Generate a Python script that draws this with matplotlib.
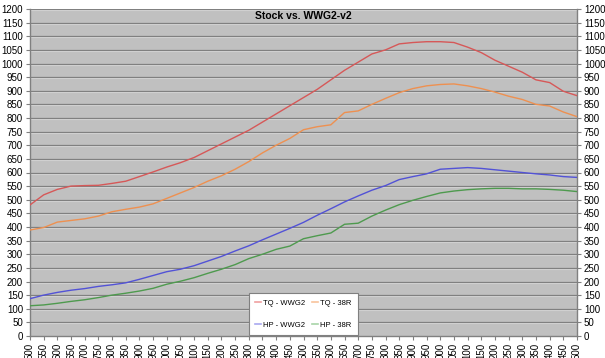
import matplotlib
matplotlib.use("Agg")
import matplotlib.pyplot as plt
import matplotlib.transforms as mtransforms
from matplotlib.lines import Line2D

# ---------- Data ----------
rpm = list(range(1500, 3550, 50))
# the reference only shows the last three digits of each rpm label
rpm_labels = [str(r)[-3:] for r in rpm]

tq_wwg2 = [481, 518, 538, 550, 552, 553, 560, 568, 585, 602,
           620, 636, 655, 680, 705, 730, 755, 785, 815, 845,
           875, 905, 940, 975, 1005, 1035, 1050, 1072, 1077, 1080,
           1080, 1077, 1060, 1040, 1012, 990, 968, 940, 930, 898, 882]

tq_38r = [389, 398, 418, 424, 430, 440, 456, 465, 473, 485,
          505, 525, 545, 568, 588, 612, 640, 672, 700, 725,
          757, 768, 775, 820, 826, 850, 872, 893, 908, 918,
          923, 925, 918, 908, 895, 880, 868, 850, 844, 822, 805]

hp_wwg2 = [137, 150, 160, 168, 174, 182, 188, 195, 208, 222,
           236, 245, 258, 275, 292, 312, 331, 353, 374, 395,
           417, 443, 467, 492, 514, 535, 552, 574, 585, 595,
           612, 615, 618, 615, 610, 605, 600, 595, 591, 585, 582]

hp_38r = [111, 114, 120, 127, 133, 141, 150, 157, 165, 175,
          190, 201, 214, 230, 245, 262, 284, 300, 318, 330,
          357, 368, 378, 410, 414, 440, 462, 482, 498, 512,
          525, 532, 537, 540, 542, 542, 540, 540, 538, 535, 530]

series = [
    ("TQ - WWG2", tq_wwg2, "#d65858", "#f0a0a0"),
    ("TQ - 38R", tq_38r, "#ee9050", "#f8c49c"),
    ("HP - WWG2", hp_wwg2, "#5252d6", "#a8a8f0"),
    ("HP - 38R", hp_38r, "#4e9a4e", "#a8d4a8"),
]

plt.rcParams["font.family"] = ["Liberation Sans", "DejaVu Sans"]

fig = plt.figure(figsize=(6.05, 3.58), dpi=100)
fig.patch.set_facecolor("white")
ax = fig.add_axes([30 / 605, 22 / 358, 547 / 605, 327 / 358])
ax.set_facecolor("#c0c0c0")

# 3D-ish gridlines: dark line with a light line just below it
grid_tr = mtransforms.blended_transform_factory(ax.transAxes, ax.transData)
light_tr = grid_tr + mtransforms.ScaledTranslation(0, -1 / 100, fig.dpi_scale_trans)
for v in range(50, 1250, 50):
    ax.plot([0, 1], [v, v], color="#dcdcdc", lw=0.8, transform=light_tr, zorder=1)
    ax.plot([0, 1], [v, v], color="#808080", lw=0.9, transform=grid_tr, zorder=1.1)

for label, vals, col, _ in series:
    ax.plot(rpm, vals, color=col, lw=1.0, zorder=3)

ax.set_xlim(rpm[0], rpm[-1])
ax.set_ylim(0, 1200)
ax.set_yticks(range(0, 1250, 50))
ax.set_xticks(rpm)
ax.set_xticklabels(rpm_labels, rotation=90, fontsize=7, va="top")
ax.tick_params(axis="y", labelsize=7, length=3, color="#808080", pad=2,
               left=True, right=True, labelleft=True, labelright=True)
ax.tick_params(axis="x", length=3, color="#808080", pad=2)

for side in ["left", "right", "bottom"]:
    ax.spines[side].set_color("#808080")
    ax.spines[side].set_linewidth(1.0)
ax.spines["top"].set_visible(False)

ax.text(0.5, 0.979, "Stock vs. WWG2-v2", transform=ax.transAxes, ha="center",
        va="center", fontsize=7.5, fontweight="bold", zorder=5)

# legend fills column-wise: order so TQ sits on the top row
order = [0, 2, 1, 3]
handles = [Line2D([0], [0], color=series[i][3], lw=1.2, label=series[i][0]) for i in order]
leg = ax.legend(handles=handles, ncol=2, loc="lower center",
                bbox_to_anchor=(0.5, 0.0), borderaxespad=0.15, fontsize=5.5,
                handlelength=0.8, handletextpad=0.25, columnspacing=0.9,
                labelspacing=1.9, borderpad=0.8, fancybox=False, framealpha=1.0)
leg.get_frame().set_edgecolor("#808080")
leg.get_frame().set_linewidth(0.8)
leg.set_zorder(6)

fig.savefig("out.png", dpi=100, facecolor="white")
